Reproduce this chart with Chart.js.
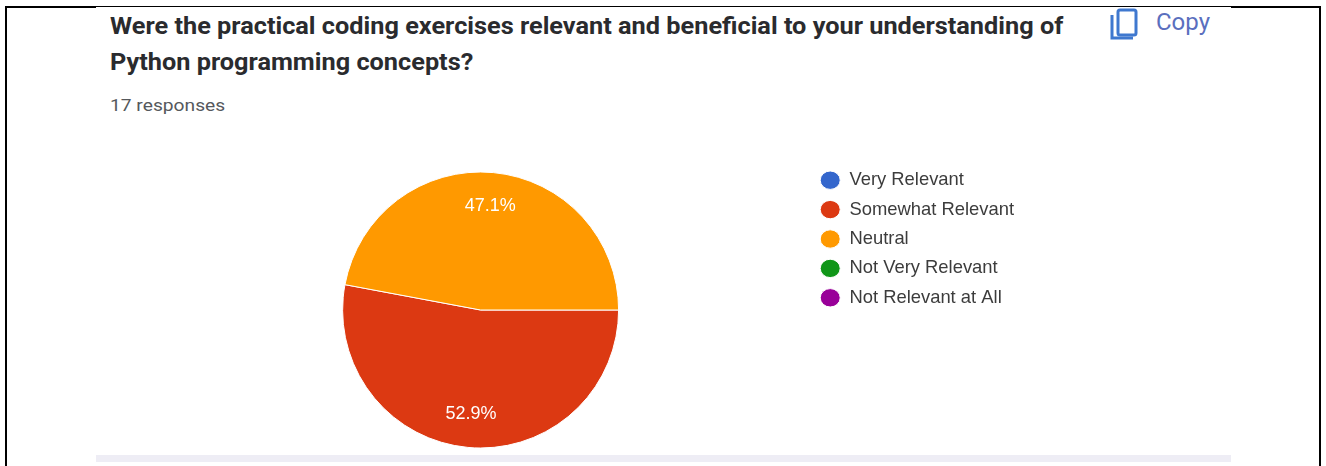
<!DOCTYPE html>
<html>
<head>
<meta charset="utf-8">
<script src="https://cdn.jsdelivr.net/npm/chart.js@4"></script>
<style>
html, body { margin: 0; padding: 0; background: #fff; }
body { width: 1326px; height: 466px; position: relative; overflow: hidden; font-family: Roboto, sans-serif; }
.abs { position: absolute; }
#title { left: 110px; top: 9px; font-size: 23px; font-weight: 700; line-height: 36px; color: #2a2b2e; white-space: nowrap; transform: scaleX(1.1); transform-origin: left top; }
#count { left: 110px; top: 95px; font-size: 17px; line-height: 20px; color: #55585c; white-space: nowrap; transform: scaleX(1.13); transform-origin: left top; }
#copy { left: 1156px; top: 8px; font-size: 24px; line-height: 28px; color: #5a6fbe; }
#icon { left: 1109px; top: 7px; }
#wrap { left: 152px; top: 160px; width: 872px; height: 300px; }
#band { left: 96px; top: 455px; width: 1135px; height: 7px; background: #eeedf5; }
.line { background: #000; }
</style>
</head>
<body>
<div class="abs line" style="left:5px;top:6px;width:91px;height:2px"></div>
<div class="abs line" style="left:96px;top:6px;width:1135px;height:1px"></div>
<div class="abs line" style="left:1231px;top:6px;width:90px;height:2px"></div>
<div class="abs line" style="left:5px;top:6px;width:2px;height:460px"></div>
<div class="abs line" style="left:1319px;top:6px;width:2px;height:460px"></div>
<div class="abs" id="title"></div>
<div class="abs" id="count"></div>
<svg class="abs" id="icon" width="32" height="34" viewBox="0 0 32 34" fill="none" stroke="#3f78cf" stroke-width="3">
  <rect x="9" y="3" width="18" height="25" rx="2"></rect>
  <path d="M3 8 V31 H24"></path>
</svg>
<div class="abs" id="copy"></div>
<div class="abs" id="wrap"><canvas id="pie"></canvas></div>
<div class="abs" id="band"></div>
<script>
const titleLines = ['Were the practical coding exercises relevant and beneficial to your understanding of', 'Python programming concepts?'];
const responsesText = '17 responses';
const copyText = 'Copy';
const categories = ['Very Relevant', 'Somewhat Relevant', 'Neutral', 'Not Very Relevant', 'Not Relevant at All'];
const responses = [0, 9, 8, 0, 0];
const colors = ['#3366cc', '#dc3912', '#ff9900', '#109618', '#990099'];
const percentLabels = ['', '52.9%', '47.1%', '', ''];

document.querySelector('#title').innerHTML = titleLines.join('<br>');
document.querySelector('#count').textContent = responsesText;
document.querySelector('#copy').textContent = copyText;

// percent labels sit inside the slices, like google forms does it
const sliceLabels = {
    id: 'sliceLabels',
    afterDatasetsDraw(chart) {
        const ctx = chart.ctx;
        ctx.save();
        ctx.font = '18px "Liberation Sans"';
        ctx.fillStyle = '#fff';
        ctx.textAlign = 'center';
        ctx.textBaseline = 'middle';
        chart.getDatasetMeta(0).data.forEach((arc, i) => {
            if (!percentLabels[i]) return;
            const mid = (arc.startAngle + arc.endAngle) / 2;
            const r = arc.outerRadius * 0.76;
            ctx.fillText(percentLabels[i], arc.x + Math.cos(mid) * r, arc.y + Math.sin(mid) * r);
        });
        ctx.restore();
    }
};

new Chart(document.querySelector('#pie').getContext('2d'), {
    type: 'pie',
    data: {
        labels: categories,
        datasets: [{
            data: responses,
            backgroundColor: colors,
            borderColor: '#ffffff',
            borderWidth: 1,
            radius: 138
        }]
    },
    options: {
        responsive: true,
        maintainAspectRatio: false,
        animation: false,
        rotation: 90,
        plugins: {
            tooltip: { enabled: false },
            legend: {
                position: 'right',
                align: 'start',
                labels: {
                    usePointStyle: true,
                    pointStyle: 'circle',
                    pointStyleWidth: 20,
                    boxHeight: 13,
                    padding: 11,
                    color: '#3c3c3c',
                    font: { family: '"Liberation Sans"', size: 18.4 }
                }
            }
        }
    },
    plugins: [sliceLabels]
});
</script>
</body>
</html>
